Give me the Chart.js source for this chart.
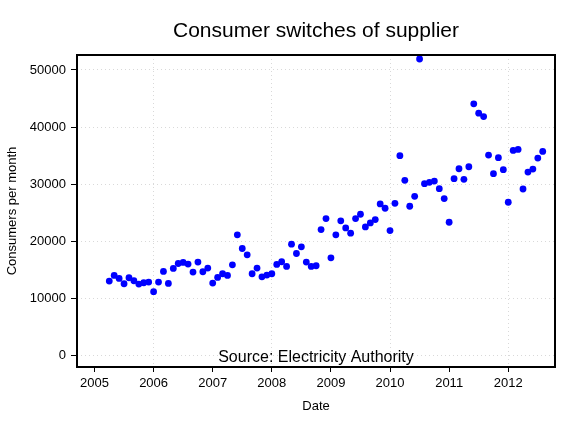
<!DOCTYPE html>
<html>
<head>
<meta charset="utf-8">
<script src="https://cdn.jsdelivr.net/npm/chart.js@4"></script>
<style>
  html, body { margin: 0; padding: 0; background: #fff; }
  #wrap { width: 578px; height: 434px; }
</style>
</head>
<body>
<div id="wrap"><canvas id="switchChart" width="578" height="434"></canvas></div>
<script>
// monthly switches, April 2005 - August 2012
const months = [
    "2005-04", "2005-05", "2005-06", "2005-07", "2005-08", "2005-09", "2005-10", "2005-11", "2005-12",
    "2006-01", "2006-02", "2006-03", "2006-04", "2006-05", "2006-06", "2006-07", "2006-08", "2006-09", "2006-10", "2006-11", "2006-12",
    "2007-01", "2007-02", "2007-03", "2007-04", "2007-05", "2007-06", "2007-07", "2007-08", "2007-09", "2007-10", "2007-11", "2007-12",
    "2008-01", "2008-02", "2008-03", "2008-04", "2008-05", "2008-06", "2008-07", "2008-08", "2008-09", "2008-10", "2008-11", "2008-12",
    "2009-01", "2009-02", "2009-03", "2009-04", "2009-05", "2009-06", "2009-07", "2009-08", "2009-09", "2009-10", "2009-11", "2009-12",
    "2010-01", "2010-02", "2010-03", "2010-04", "2010-05", "2010-06", "2010-07", "2010-08", "2010-09", "2010-10", "2010-11", "2010-12",
    "2011-01", "2011-02", "2011-03", "2011-04", "2011-05", "2011-06", "2011-07", "2011-08", "2011-09", "2011-10", "2011-11", "2011-12",
    "2012-01", "2012-02", "2012-03", "2012-04", "2012-05", "2012-06", "2012-07", "2012-08"
];
const switches = [
    12990, 13990, 13460, 12530, 13580, 13050, 12470, 12700, 12820,
    11130, 12820, 14690, 12590, 15210, 16080, 16260, 15970, 14570, 16320, 14630, 15270,
    12650, 13640, 14280, 13990, 15850, 21100, 18710, 17600, 14280, 15270, 13750, 14040,
    14280, 15910, 16380, 15560, 19460, 17830, 19000, 16320, 15560, 15680, 22030, 23950,
    17080, 21100, 23550, 22320, 21390, 23950, 24710, 22490, 23190, 23780, 26520, 25760,
    21850, 26630, 34970, 30650, 26110, 27860, 51920, 30070, 30300, 30530, 29200, 27450,
    23310, 30940, 32690, 30830, 33040, 44060, 42420, 41840, 35080, 31820, 34620, 32520,
    26810, 35900, 36070, 29140, 32110, 32630, 34560, 35720
];
const yearTicks = [2005, 2006, 2007, 2008, 2009, 2010, 2011, 2012];
const valueTicks = [0, 10000, 20000, 30000, 40000, 50000];

const chartTitle = "Consumer switches of supplier";
const sourceNote = "Source: Electricity Authority";
const FONT = "'Liberation Sans', Arial, sans-serif";

// "2006-03" -> 2006.1667
function toYear(m) {
    const [y, mo] = m.split("-").map(Number);
    return y + (mo - 1) / 12;
}

const points = months.map((m, i) => ({ x: toYear(m), y: switches[i] }));

// box around the plot, title above it, source note inside at the bottom
const framePlugin = {
    id: "frame",
    afterDraw(chart) {
        const { ctx, chartArea: a } = chart;
        ctx.save();
        ctx.strokeStyle = "#000";
        ctx.lineWidth = 2;
        ctx.strokeRect(a.left, a.top, a.right - a.left, a.bottom - a.top);

        const cx = (a.left + a.right) / 2;
        ctx.fillStyle = "#000";
        ctx.textAlign = "center";
        ctx.textBaseline = "alphabetic";
        ctx.font = "21px " + FONT;
        ctx.fillText(chartTitle, cx, 37);
        ctx.font = "16px " + FONT;
        ctx.fillText(sourceNote, cx, 362);
        ctx.restore();
    }
};

new Chart(document.getElementById("switchChart").getContext("2d"), {
    type: "scatter",
    data: {
        datasets: [{
            label: "Switches",
            data: points,
            backgroundColor: "#0000ff",
            borderWidth: 0,
            pointRadius: 3.4,
            pointHoverRadius: 3.4
        }]
    },
    options: {
        responsive: false,
        animation: false,
        layout: { padding: { top: 55, right: 23, left: 0, bottom: 0 } },
        plugins: {
            legend: { display: false },
            tooltip: { enabled: false },
            title: { display: false }
        },
        scales: {
            x: {
                type: "linear",
                min: 2004.704,
                max: 2012.791,
                afterBuildTicks: scale => { scale.ticks = yearTicks.map(v => ({ value: v })); },
                afterFit: scale => { scale.height = 67; },
                ticks: {
                    color: "#000",
                    padding: 4,
                    maxRotation: 0,
                    autoSkip: false,
                    font: { family: FONT, size: 13 },
                    callback: v => String(v)
                },
                grid: {
                    color: c => (c.tick && c.tick.value % 2 === 0) ? "#d9d9d9" : "rgba(0,0,0,0)",
                    lineWidth: 1,
                    drawOnChartArea: true,
                    tickLength: 5,
                    tickColor: "#000",
                    tickBorderDash: [],
                    tickWidth: 1
                },
                border: { display: false, dash: [1, 3] },
                title: {
                    display: true,
                    text: "Date",
                    color: "#000",
                    font: { family: FONT, size: 13 },
                    padding: { top: 0, bottom: 20 }
                }
            },
            y: {
                type: "linear",
                min: -2065,
                max: 52625,
                afterBuildTicks: scale => { scale.ticks = valueTicks.map(v => ({ value: v })); },
                afterFit: scale => { scale.width = 77; },
                ticks: {
                    color: "#000",
                    padding: 5,
                    font: { family: FONT, size: 13 },
                    callback: v => String(v)
                },
                grid: {
                    color: "#d9d9d9",
                    lineWidth: 1,
                    tickLength: 6,
                    tickColor: "#000",
                    tickBorderDash: [],
                    tickWidth: 1
                },
                border: { display: false, dash: [1, 3] },
                title: {
                    display: true,
                    text: "Consumers per month",
                    color: "#000",
                    font: { family: FONT, size: 13 },
                    padding: { top: 5, bottom: 0 }
                }
            }
        }
    },
    plugins: [framePlugin]
});
</script>
</body>
</html>
